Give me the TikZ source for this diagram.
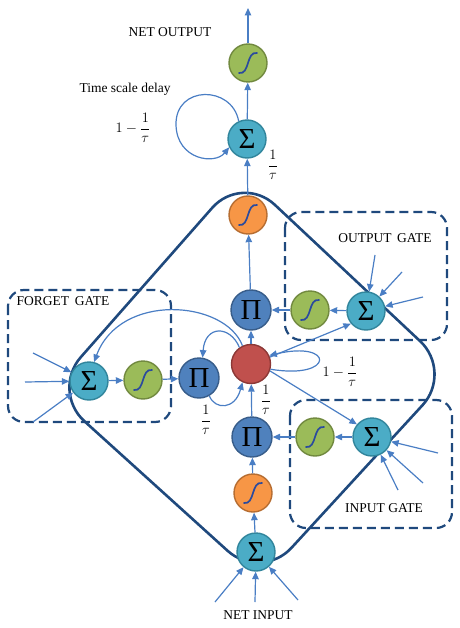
\documentclass[tikz,border=0pt]{standalone}
\usepackage{amsmath}
\usepackage{fontspec}
\setmainfont{Liberation Serif}
\usetikzlibrary{arrows.meta}
\pgfdeclarelayer{bg}
\pgfsetlayers{bg,main}
\definecolor{sumfill}{HTML}{4BACC6}
\definecolor{sumdraw}{HTML}{31859C}
\definecolor{grfill}{HTML}{9BBB59}
\definecolor{grdraw}{HTML}{71893F}
\definecolor{orfill}{HTML}{F79646}
\definecolor{ordraw}{HTML}{B66D31}
\definecolor{pifill}{HTML}{4F81BD}
\definecolor{pidraw}{HTML}{385D8A}
\definecolor{redfill}{HTML}{C0504D}
\definecolor{reddraw}{HTML}{8C3836}
\definecolor{conc}{HTML}{4A7EC4}
\definecolor{navy}{HTML}{1F497D}
\definecolor{sigline}{HTML}{2A4A9E}
\begin{document}
\begin{tikzpicture}[x=1pt,y=-1pt,
  unit/.style={circle, minimum size=38pt, inner sep=0pt, line width=1.4pt},
  sumn/.style={unit, fill=sumfill, draw=sumdraw, font=\fontsize{29}{29}\selectfont},
  prodn/.style={unit, minimum size=40pt, fill=pifill, draw=pidraw, font=\fontsize{29}{29}\selectfont},
  redn/.style={unit, minimum size=39pt, fill=redfill, draw=reddraw},
  sigcurve/.style={path picture={\draw[line width=1.7pt, draw=sigline, line cap=round]
      ([shift={(-9pt,-10pt)}]path picture bounding box.center) .. controls
      ([shift={(2pt,-12pt)}]path picture bounding box.center) and
      ([shift={(-2pt,12pt)}]path picture bounding box.center) ..
      ([shift={(9pt,10pt)}]path picture bounding box.center);}},
  grn/.style={unit, fill=grfill, draw=grdraw, sigcurve},
  orn/.style={unit, fill=orfill, draw=ordraw, sigcurve},
  conn/.style={draw=conc, line width=1.2pt, -{Triangle[length=7.5pt,width=6.5pt]}},
  lbl/.style={font=\fontsize{13.5}{16}\selectfont, inner sep=0pt},
  gatebox/.style={draw=navy, line width=2.2pt, dash pattern=on 9pt off 5pt, rounded corners=16pt},
  diamondline/.style={draw=navy, line width=2.6pt, rounded corners=45pt}
]
\useasboundingbox (0,0) rectangle (459,628);

% nodes
\node[sumn] (sb) at (256,552) {Σ};
\node[orn] (ob) at (253,493) {};
\node[prodn] (pi) at (252,437) {Π};
\node[grn] (gi) at (315,437) {};
\node[sumn] (si) at (372,437) {Σ};
\node[redn] (r) at (251,364) {};
\node[prodn] (po) at (251,310) {Π};
\node[grn] (gog) at (310,310) {};
\node[sumn] (so) at (366,311) {Σ};
\node[orn] (ot) at (248,215) {};
\node[sumn] (st) at (247,139) {Σ};
\node[grn] (go) at (248,63) {};
\node[prodn] (pf) at (199,378) {Π};
\node[grn] (gf) at (143,380) {};
\node[sumn] (sf) at (89,381) {Σ};

\coordinate (out) at (248,8);
\coordinate (fi1) at (33,353);
\coordinate (fi2) at (25,382);
\coordinate (fi3) at (33,422);
\coordinate (oi1) at (375,255);
\coordinate (oi2) at (402,272);
\coordinate (oi3) at (423,297);
\coordinate (ii1) at (438,453);
\coordinate (ii2) at (423,483);
\coordinate (ii3) at (398,490);
\coordinate (ni1) at (215,602);
\coordinate (ni2) at (255,602);
\coordinate (ni3) at (298,600);

% background: diamond and gate boxes
\begin{pgfonlayer}{bg}
\draw[diamondline] (146.5,282.5) -- (242,174) -- (453,372) -- (261,581) -- (51,391) -- cycle;
\draw[gatebox] (8,290) rectangle (171,422);
\draw[gatebox] (285,212) rectangle (447,340);
\draw[gatebox] (290,400) rectangle (452,528);
\end{pgfonlayer}

% main column
\draw[conn] (sb) -- (ob);
\draw[conn] (ob) -- (pi);
\draw[conn] (pi) -- (r);
\draw[conn] (r) -- (po);
\draw[conn] (po) -- (ot);
\draw[conn] (ot) -- (st);
\draw[conn] (st) -- (go);
\draw[conn] (go) -- (out);
% gates
\draw[conn] (si) -- (gi);
\draw[conn] (gi) -- (pi);
\draw[conn] (so) -- (gog);
\draw[conn] (gog) -- (po);
\draw[conn] (sf) -- (gf);
\draw[conn] (gf) -- (pf);
% from the cell
\draw[conn] (r.20) -- (so.220);
\draw[conn] (r.-20) -- (si.140);
\draw[conn] (r.115) .. controls (225,300) and (120,292) .. (sf.75);
\draw[conn] (r.125) .. controls (230,325) and (205,325) .. (pf.80);
\draw[conn] (pf.-60) .. controls (215,410) and (235,410) .. (r.245);
\draw[conn] (r.-15) .. controls (335,380) and (335,340) .. (r.25);
% time scale loop
\draw[conn] (st.115) .. controls (232,85) and (175,85) .. (176,125)
   .. controls (177,160) and (215,165) .. (st.205);
% external inputs
\foreach \c in {fi1,fi2,fi3} \draw[conn] (\c) -- (sf);
\foreach \c in {oi1,oi2,oi3} \draw[conn] (\c) -- (so);
\foreach \c in {ii1,ii2,ii3} \draw[conn] (\c) -- (si);
\foreach \c in {ni1,ni2,ni3} \draw[conn] (\c) -- (sb);

% labels
\node[lbl] (lno) at (170,32) {NET OUTPUT};
\node[lbl] (ltd) at (125,89) {Time scale delay};
\node[lbl] (lf1) at (133,128) {$1-\dfrac{1}{\tau}$};
\node[lbl] (lf2) at (273,165) {$\dfrac{1}{\tau}$};
\node[lbl] (lfg) at (63,301) {FORGET\, GATE};
\node[lbl] (log) at (385,238) {OUTPUT\, GATE};
\node[lbl] (lig) at (384,508) {INPUT GATE};
\node[lbl] (lni) at (258,615) {NET INPUT};
\node[lbl] (lf3) at (340,372) {$1-\dfrac{1}{\tau}$};
\node[lbl] (lf4) at (206,420) {$\dfrac{1}{\tau}$};
\node[lbl] (lf5) at (266,400) {$\dfrac{1}{\tau}$};
\end{tikzpicture}
\end{document}
